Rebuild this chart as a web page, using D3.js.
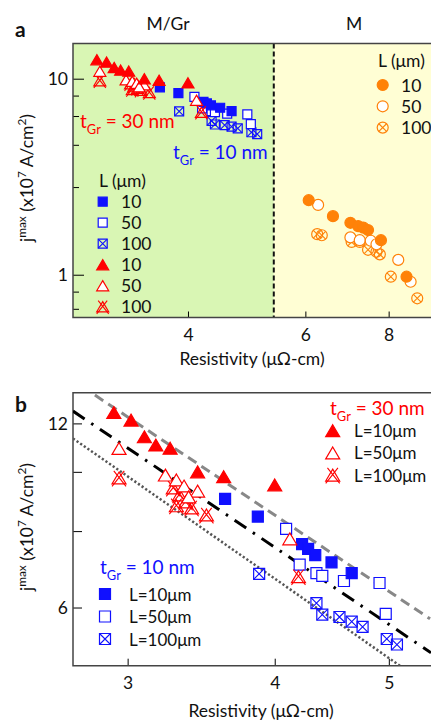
<!DOCTYPE html>
<html>
<head>
<meta charset="utf-8">
<script src="https://cdn.jsdelivr.net/npm/d3@7"></script>
<style>
  body { margin: 0; background: #fff; }
  svg { display: block; }
  text { font-family: Lato, "Open Sans", sans-serif; fill: #111; }
</style>
</head>
<body>
<div class="chart"></div>
<script>
// ---- data: [resistivity (uOhm-cm), jmax (x1e7 A/cm2)] ----
const gr10L10  = [[3.63, 9.03], [3.87, 8.45], [4.22, 7.62], [4.27, 7.48], [4.33, 7.31], [4.47, 7.11], [4.65, 6.83]];
const gr10L50  = [[4.09, 8.07], [4.20, 7.05], [4.34, 6.83], [4.39, 6.76], [4.58, 6.63], [4.91, 6.58], [4.97, 5.86]];
const gr10L100 = [[3.88, 6.81], [4.34, 6.10], [4.39, 5.84], [4.54, 5.79], [4.65, 5.69], [4.75, 5.58], [4.98, 5.33], [5.08, 5.22]];
const gr30L10  = [[2.92, 12.5], [3.02, 12.15], [3.10, 11.41], [3.17, 11.06], [3.26, 10.93], [3.44, 10.0], [3.62, 9.82], [4.00, 9.52]];
const gr30L50  = [[2.95, 10.92], [3.23, 9.88], [3.30, 9.70], [3.35, 9.48], [3.44, 9.30], [3.38, 9.10], [4.12, 7.77]];
const gr30L100 = [[2.95, 9.77], [3.28, 9.41], [3.32, 9.17], [3.36, 8.93], [3.40, 8.73], [3.30, 8.80], [3.50, 8.50], [4.19, 6.74]];
const mL10  = [[6.07, 2.40], [6.60, 1.99], [7.01, 1.84], [7.20, 1.77], [7.33, 1.74], [7.45, 1.69], [7.79, 1.50], [8.51, 0.977]];
const mL50  = [[6.27, 2.27], [7.01, 1.55], [7.24, 1.50], [7.52, 1.49], [7.67, 1.43], [8.27, 1.19], [8.63, 0.921]];
const mL100 = [[6.25, 1.61], [6.35, 1.59], [7.04, 1.47], [7.24, 1.47], [7.45, 1.34], [7.67, 1.31], [7.76, 1.27], [8.06, 0.977], [8.83, 0.758]];

// fit lines in panel b (two end points each)
const fitDash    = [[2.814, 13.35], [5.42, 5.75]];
const fitDashDot = [[2.696, 12.57], [5.43, 5.06]];
const fitDot     = [[2.696, 11.34], [5.11, 4.82]];

const boundary = 5.38;              // M/Gr | M divide in panel a
const xTicksA = [4, 6, 8];
const yTicksA = [10, 1];
const yMinorA = [8.2, 6.45, 4.6, 2.8, 0.82, 0.67];
const xTicksB = [3, 4, 5];
const yTicksB = [12, 10, 8, 6];
const yLabelsB = [12, 6];
const lengths = ["10", "50", "100"];

const RED = "#ff0000", BLUE = "#1010ff", ORANGE = "#ff8208";
const FS = 17.5;

const svg = d3.select(".chart").append("svg")
  .attr("width", 431)
  .attr("height", 721);

// ---------- helpers ----------
function rich(t, parts, size) {
  let cur = 0;
  parts.forEach(([s, k]) => {
    const shift = k === "sup" ? -0.42 * size : k === "sub" ? 0.3 * size : 0;
    t.append("tspan")
      .attr("dy", shift - cur)
      .attr("font-size", k ? size * 0.68 : size)
      .text(s);
    cur = shift;
  });
  return t;
}

// shape: "sq" | "tri" | "cir", fill: "fill" | "open" | "x"
function marker(g, shape, fill, cx, cy, s, color) {
  const h = s / 2;
  let d, cross;
  if (shape === "sq") {
    d = `M${-h},${-h}H${h}V${h}H${-h}Z`;
    cross = `M${-h},${-h}L${h},${h}M${h},${-h}L${-h},${h}`;
  } else if (shape === "tri") {
    const th = s * 0.85;
    d = `M0,${-th / 2}L${h},${th / 2}L${-h},${th / 2}Z`;
    cross = `M${-h * 0.75},${-th * 0.6}L${h},${th * 0.7}M${h * 0.75},${-th * 0.6}L${-h},${th * 0.7}`;
  } else {
    d = d3.arc()({ innerRadius: 0, outerRadius: h, startAngle: 0, endAngle: 2 * Math.PI });
    const c = h * 0.7;
    cross = `M${-c},${-c}L${c},${c}M${c},${-c}L${-c},${c}`;
  }
  const m = g.append("g").attr("transform", `translate(${cx},${cy})`);
  m.append("path").attr("d", d)
    .attr("fill", fill === "fill" ? color : fill === "open" ? "#fff" : "none")
    .attr("stroke", color)
    .attr("stroke-width", 1.2);
  if (fill === "x") {
    m.append("path").attr("d", cross).attr("fill", "none")
      .attr("stroke", color).attr("stroke-width", 1.1);
  }
}

function series(g, data, x, y, shape, fill, s, color) {
  data.forEach(d => marker(g, shape, fill, x(d[0]), y(d[1]), s, color));
}

// ================= panel a =================
const xA = d3.scaleLog().domain([2.689, 9.26]).range([73, 431]);
const yA = d3.scaleLog().domain([15.12, 0.605]).range([43.5, 317.5]);
const ga = svg.append("g");

ga.append("rect")
  .attr("x", xA.range()[0]).attr("y", yA.range()[0])
  .attr("width", xA(boundary) - xA.range()[0])
  .attr("height", yA.range()[1] - yA.range()[0])
  .attr("fill", "#d9f6b4");
ga.append("rect")
  .attr("x", xA(boundary)).attr("y", yA.range()[0])
  .attr("width", xA.range()[1] - xA(boundary))
  .attr("height", yA.range()[1] - yA.range()[0])
  .attr("fill", "#fffed4");
ga.append("line")
  .attr("x1", xA(boundary)).attr("x2", xA(boundary))
  .attr("y1", yA.range()[0]).attr("y2", yA.range()[1])
  .attr("stroke", "#111").attr("stroke-width", 2)
  .attr("stroke-dasharray", "5,3");

ga.append("g")
  .attr("transform", `translate(0,${yA.range()[1]})`)
  .call(d3.axisBottom(xA).tickValues(xTicksA).tickFormat(d3.format("d"))
    .tickSizeInner(-6).tickSizeOuter(0).tickPadding(11))
  .call(g => g.select(".domain").remove())
  .call(g => g.selectAll(".tick text").attr("font-size", FS));

ga.append("g")
  .attr("transform", `translate(${xA.range()[0]},0)`)
  .call(d3.axisLeft(yA).tickValues(yTicksA).tickFormat(d3.format("d"))
    .tickSizeInner(-11).tickSizeOuter(0).tickPadding(5))
  .call(g => g.select(".domain").remove())
  .call(g => g.selectAll(".tick text").attr("font-size", FS));

ga.append("g")
  .attr("transform", `translate(${xA.range()[0]},0)`)
  .call(d3.axisLeft(yA).tickValues(yMinorA).tickFormat("")
    .tickSizeInner(-6).tickSizeOuter(0))
  .call(g => g.select(".domain").remove());

// frame
ga.append("path")
  .attr("d", `M${xA.range()[1]},${yA.range()[0]}H${xA.range()[0]}V${yA.range()[1]}H${xA.range()[1]}`)
  .attr("fill", "none").attr("stroke", "#444").attr("stroke-width", 1.5);

series(ga, gr10L100, xA, yA, "sq", "x", 9, BLUE);
series(ga, gr10L50, xA, yA, "sq", "open", 9, BLUE);
series(ga, gr10L10, xA, yA, "sq", "fill", 9, BLUE);
series(ga, gr30L100, xA, yA, "tri", "x", 12, RED);
series(ga, gr30L50, xA, yA, "tri", "open", 12, RED);
series(ga, gr30L10, xA, yA, "tri", "fill", 12, RED);
series(ga, mL100, xA, yA, "cir", "x", 11, ORANGE);
series(ga, mL50, xA, yA, "cir", "open", 11, ORANGE);
series(ga, mL10, xA, yA, "cir", "fill", 11, ORANGE);

ga.append("text").attr("x", 15).attr("y", 37)
  .attr("font-size", 21).attr("font-weight", "bold").text("a");
ga.append("text").attr("x", 168).attr("y", 30).attr("text-anchor", "middle")
  .attr("font-size", FS).text("M/Gr");
ga.append("text").attr("x", 354).attr("y", 30).attr("text-anchor", "middle")
  .attr("font-size", FS).text("M");

rich(ga.append("text").attr("x", 80).attr("y", 128).style("fill", RED),
  [["t", null], ["Gr", "sub"], [" = 30 nm", null]], 19);
rich(ga.append("text").attr("x", 173).attr("y", 159).style("fill", BLUE),
  [["t", null], ["Gr", "sub"], [" = 10 nm", null]], 19);

// legend left (M/Gr)
ga.append("text").attr("x", 99).attr("y", 187).attr("font-size", FS).text("L (\u03bcm)");
const legA = [["sq", "fill", BLUE, 9], ["sq", "open", BLUE, 9], ["sq", "x", BLUE, 9],
              ["tri", "fill", RED, 12], ["tri", "open", RED, 12], ["tri", "x", RED, 12]];
legA.forEach((l, i) => {
  const yy = 201.7 + i * 21;
  marker(ga, l[0], l[1], 102.7, yy, l[3], l[2]);
  ga.append("text").attr("x", 121).attr("y", yy + 6.5).attr("font-size", FS).text(lengths[i % 3]);
});
// legend right (M)
ga.append("text").attr("x", 378).attr("y", 67).attr("font-size", FS).text("L (\u03bcm)");
["fill", "open", "x"].forEach((k, i) => {
  const yy = 85 + i * 21.3;
  marker(ga, "cir", k, 382.7, yy, 11, ORANGE);
  ga.append("text").attr("x", 401).attr("y", yy + 6.5).attr("font-size", FS).text(lengths[i]);
});

rich(ga.append("text").attr("text-anchor", "middle")
  .attr("transform", "translate(33,178) rotate(-90)"),
  [["j", null], ["max", "sup"], [" (x10", null], ["7", "sup"], [" A/cm", null], ["2", "sup"], [")", null]], FS);
ga.append("text").attr("x", 252).attr("y", 365).attr("text-anchor", "middle")
  .attr("font-size", FS).text("Resistivity (\u03bc\u03a9-cm)");

// ================= panel b =================
const xB = d3.scaleLog().domain([2.696, 5.43]).range([73, 431]);
const yB = d3.scaleLog().domain([13.47, 4.82]).range([392.7, 665.7]);
const gb = svg.append("g");

gb.append("clipPath").attr("id", "clipb").append("rect")
  .attr("x", xB.range()[0]).attr("y", yB.range()[0])
  .attr("width", xB.range()[1] - xB.range()[0])
  .attr("height", yB.range()[1] - yB.range()[0]);

gb.append("g")
  .attr("transform", `translate(0,${yB.range()[1]})`)
  .call(d3.axisBottom(xB).tickValues(xTicksB).tickFormat(d3.format("d"))
    .tickSizeInner(-7).tickSizeOuter(0).tickPadding(11))
  .call(g => g.select(".domain").remove())
  .call(g => g.selectAll(".tick text").attr("font-size", FS));

gb.append("g")
  .attr("transform", `translate(${xB.range()[0]},0)`)
  .call(d3.axisLeft(yB).tickValues(yTicksB)
    .tickFormat(d => yLabelsB.includes(d) ? d : "")
    .tickSizeInner(-9).tickSizeOuter(0).tickPadding(5))
  .call(g => g.select(".domain").remove())
  .call(g => g.selectAll(".tick text").attr("font-size", FS));

gb.append("path")
  .attr("d", `M${xB.range()[1]},${yB.range()[0]}H${xB.range()[0]}V${yB.range()[1]}H${xB.range()[1]}`)
  .attr("fill", "none").attr("stroke", "#444").attr("stroke-width", 1.5);

const fitLine = d3.line().x(d => xB(d[0])).y(d => yB(d[1]));
const lines = gb.append("g").attr("clip-path", "url(#clipb)");
lines.append("path").datum(fitDash).attr("d", fitLine)
  .attr("fill", "none").attr("stroke", "#888").attr("stroke-width", 3)
  .attr("stroke-dasharray", "10,6");
lines.append("path").datum(fitDashDot).attr("d", fitLine)
  .attr("fill", "none").attr("stroke", "#000").attr("stroke-width", 3)
  .attr("stroke-dasharray", "14,8,2.5,8");
lines.append("path").datum(fitDot).attr("d", fitLine)
  .attr("fill", "none").attr("stroke", "#555").attr("stroke-width", 2.5)
  .attr("stroke-dasharray", "2.2,2.2");

series(gb, gr10L100, xB, yB, "sq", "x", 11, BLUE);
series(gb, gr10L50, xB, yB, "sq", "open", 11, BLUE);
series(gb, gr10L10, xB, yB, "sq", "fill", 11, BLUE);
series(gb, gr30L100, xB, yB, "tri", "x", 14, RED);
series(gb, gr30L50, xB, yB, "tri", "open", 14, RED);
series(gb, gr30L10, xB, yB, "tri", "fill", 14, RED);

gb.append("text").attr("x", 15).attr("y", 412)
  .attr("font-size", 21).attr("font-weight", "bold").text("b");

rich(gb.append("text").attr("x", 330).attr("y", 415).style("fill", RED),
  [["t", null], ["Gr", "sub"], [" = 30 nm", null]], 19);
[["fill", "L=10\u03bcm"], ["open", "L=50\u03bcm"], ["x", "L=100\u03bcm"]].forEach((l, i) => {
  const yy = 430.7 + i * 22.2;
  marker(gb, "tri", l[0], 332.7, yy, 14, RED);
  gb.append("text").attr("x", 354).attr("y", yy + 6.5).attr("font-size", 17).text(l[1]);
});

rich(gb.append("text").attr("x", 100).attr("y", 574).style("fill", BLUE),
  [["t", null], ["Gr", "sub"], [" = 10 nm", null]], 19);
[["fill", "L=10\u03bcm"], ["open", "L=50\u03bcm"], ["x", "L=100\u03bcm"]].forEach((l, i) => {
  const yy = 594 + i * 22.5;
  marker(gb, "sq", l[0], 105, yy, 11, BLUE);
  gb.append("text").attr("x", 129).attr("y", yy + 6.5).attr("font-size", 17).text(l[1]);
});

rich(gb.append("text").attr("text-anchor", "middle")
  .attr("transform", "translate(33,527) rotate(-90)"),
  [["j", null], ["max", "sup"], [" (x10", null], ["7", "sup"], [" A/cm", null], ["2", "sup"], [")", null]], FS);
gb.append("text").attr("x", 261).attr("y", 717).attr("text-anchor", "middle")
  .attr("font-size", FS).text("Resistivity (\u03bc\u03a9-cm)");
</script>
</body>
</html>
